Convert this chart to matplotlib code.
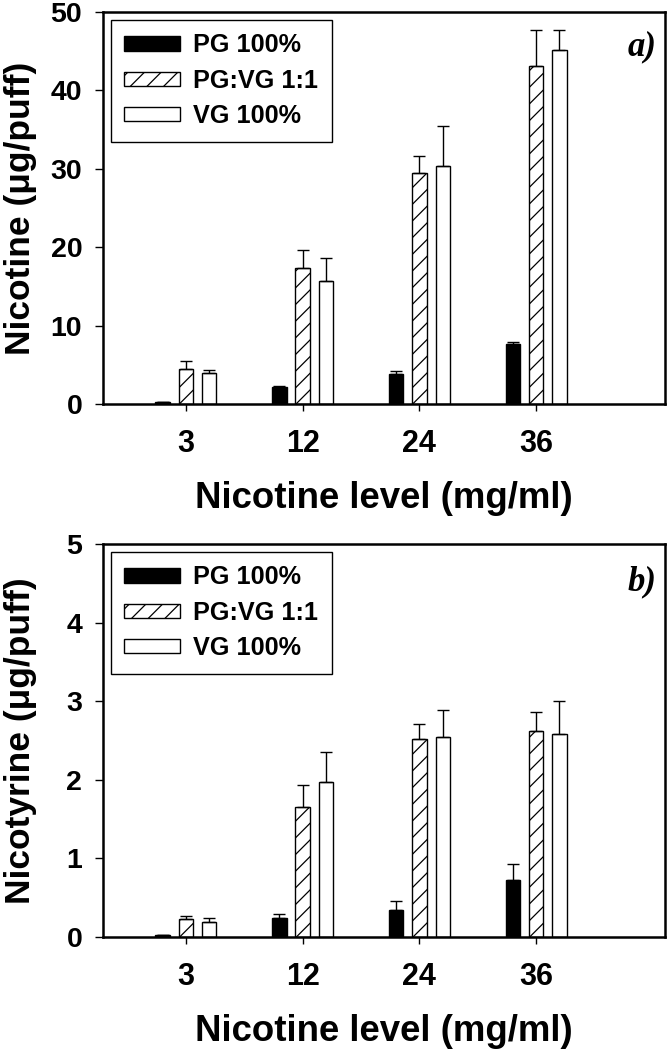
import numpy as np
import matplotlib
matplotlib.use("Agg")
import matplotlib.pyplot as plt

plt.rcParams['font.family'] = ['Liberation Sans', 'DejaVu Sans']
plt.rcParams['font.weight'] = 'bold'
plt.rcParams['hatch.linewidth'] = 0.9

levels = ["3", "12", "24", "36"]
series = ["PG 100%", "PG:VG 1:1", "VG 100%"]

# Panel a) Nicotine (ug/puff)
nic_pg = [0.3, 2.2, 3.8, 7.6]
nic_pg_err = [0.0, 0.1, 0.4, 0.35]
nic_mix = [4.5, 17.4, 29.5, 43.1]
nic_mix_err = [1.0, 2.2, 2.1, 4.6]
nic_vg = [3.9, 15.7, 30.4, 45.1]
nic_vg_err = [0.5, 2.9, 5.0, 2.6]

# Panel b) Nicotyrine (ug/puff)
nty_pg = [0.02, 0.24, 0.345, 0.72]
nty_pg_err = [0.0, 0.05, 0.11, 0.21]
nty_mix = [0.23, 1.66, 2.52, 2.62]
nty_mix_err = [0.04, 0.28, 0.19, 0.24]
nty_vg = [0.196, 1.97, 2.54, 2.58]
nty_vg_err = [0.045, 0.39, 0.35, 0.42]

W, H = 668, 1050
fig = plt.figure(figsize=(W / 100, H / 100), dpi=100)

def axes_px(left, top, right, bottom):
    return fig.add_axes([left / W, 1 - bottom / H, (right - left) / W, (bottom - top) / H])

ax1 = axes_px(103, 12, 665, 404)
ax2 = axes_px(103, 544, 665, 937)

def draw(ax, vals, errs, ylim, yticks, ylabel, tag, tag_y):
    x = np.arange(len(levels))
    width = 0.123
    offs = [-0.2, 0.0, 0.2]
    styles = [dict(color='black', edgecolor='black'),
              dict(color='white', edgecolor='black', hatch='//'),
              dict(color='white', edgecolor='black')]
    for i in range(3):
        ax.bar(x + offs[i], vals[i], width, yerr=[np.zeros(len(levels)), errs[i]],
               linewidth=1.0, label=series[i],
               error_kw=dict(ecolor='black', elinewidth=1.0, capsize=4, capthick=1.0),
               **styles[i])
    ax.set_xlim(-0.711, 4.105)
    ax.set_ylim(*ylim)
    ax.set_yticks(yticks)
    ax.set_xticks(x)
    ax.set_xticklabels(levels)
    for s in ax.spines.values():
        s.set_linewidth(1.8)
    ax.tick_params(axis='x', direction='out', length=5, width=1, pad=13, labelsize=22)
    ax.tick_params(axis='y', direction='out', length=6, width=1, pad=9, labelsize=20.5)
    ax.set_xlabel("Nicotine level (mg/ml)", fontsize=26.4, fontweight='bold')
    ax.set_ylabel(ylabel, fontsize=25.5, fontweight='bold')
    ax.yaxis.set_label_coords(-0.117, 0.5)
    ax.xaxis.set_label_coords(0.5, -0.196)
    leg = ax.legend(loc='upper left', fontsize=18.2, frameon=True, fancybox=False,
                    edgecolor='black', framealpha=1, handlelength=2.2, handleheight=0.48,
                    handletextpad=0.5, labelspacing=0.44, borderpad=0.55,
                    borderaxespad=0.3)
    leg.get_frame().set_linewidth(1.0)
    ax.text(0.985, tag_y, tag, transform=ax.transAxes, ha='right', va='baseline',
            fontsize=25, fontweight='bold', fontstyle='italic',
            family=['Liberation Serif', 'DejaVu Serif'])

draw(ax1, [nic_pg, nic_mix, nic_vg], [nic_pg_err, nic_mix_err, nic_vg_err],
     (0, 50), [0, 10, 20, 30, 40, 50], "Nicotine (\u03bcg/puff)", "a)", 0.890)
draw(ax2, [nty_pg, nty_mix, nty_vg], [nty_pg_err, nty_mix_err, nty_vg_err],
     (0, 5), [0, 1, 2, 3, 4, 5], "Nicotyrine (\u03bcg/puff)", "b)", 0.883)

fig.savefig("out.png", dpi=100)
